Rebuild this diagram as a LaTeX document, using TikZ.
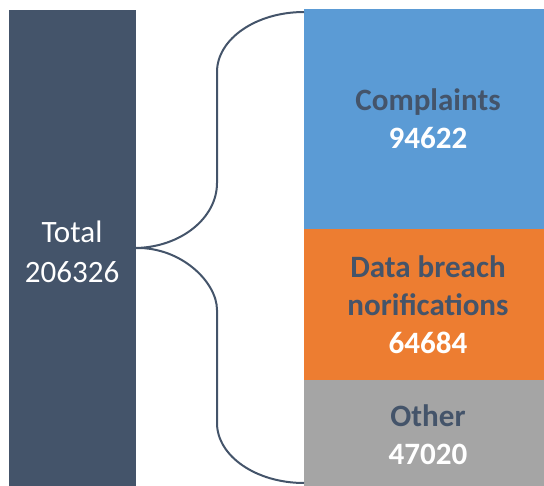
\documentclass[tikz,border=0pt]{standalone}
\usepackage{fontspec}
\setmainfont{Carlito}
\definecolor{slate}{HTML}{44546A}
\definecolor{cblue}{HTML}{5B9BD5}
\definecolor{corange}{HTML}{ED7D31}
\definecolor{cgray}{HTML}{A5A5A5}
\tikzset{
  block/.style={draw=none, inner sep=0pt, outer sep=0pt, anchor=north west},
  lbl/.style={anchor=base, inner sep=0pt, font=\fontsize{23.3}{28}\selectfont\bfseries, text=slate},
  num/.style={anchor=base, inner sep=0pt, font=\fontsize{23.3}{28}\selectfont\bfseries, text=white},
  tot/.style={anchor=base, inner sep=0pt, font=\fontsize{23.3}{28}\selectfont, text=white},
  brace/.style={draw=slate, line width=1.5pt}
}
\begin{document}
\begin{tikzpicture}[x=0.75pt, y=-0.75pt]
\useasboundingbox (0,0) rectangle (544,486);
% boxes
\node[block, fill=slate, minimum width=127*0.75pt, minimum height=476*0.75pt] (total) at (9,10) {};
\node[block, fill=cblue, minimum width=240*0.75pt, minimum height=220*0.75pt] (blue) at (304,9) {};
\node[block, fill=corange, minimum width=240*0.75pt, minimum height=151*0.75pt] (orange) at (304,229) {};
\node[block, fill=cgray, minimum width=240*0.75pt, minimum height=106*0.75pt] (gray) at (304,380) {};
% texts
\node[tot] (t1) at (72,242) {Total};
\node[tot] (t2) at (72,282) {206326};
\node[lbl] (c1) at (428,110) {Complaints};
\node[num] (c2) at (428,148) {94622};
\node[lbl] (d1) at (428,277) {Data breach};
\node[lbl] (d2) at (428,315) {norifications};
\node[num] (d3) at (428,353) {64684};
\node[lbl] (o1) at (428,426) {Other};
\node[num] (o2) at (428,464) {47020};
% brace
\coordinate (btop) at (304,12);
\coordinate (bbot) at (304,483);
\draw[brace] (btop) .. controls (256,12) and (217,39) .. (217,72)
  -- (217,183) .. controls (217,218) and (181,247) .. (total.east)
  .. controls (181,247) and (217,282) .. (217,310)
  -- (217,423) .. controls (217,456) and (256,483) .. (bbot);
\end{tikzpicture}
\end{document}
